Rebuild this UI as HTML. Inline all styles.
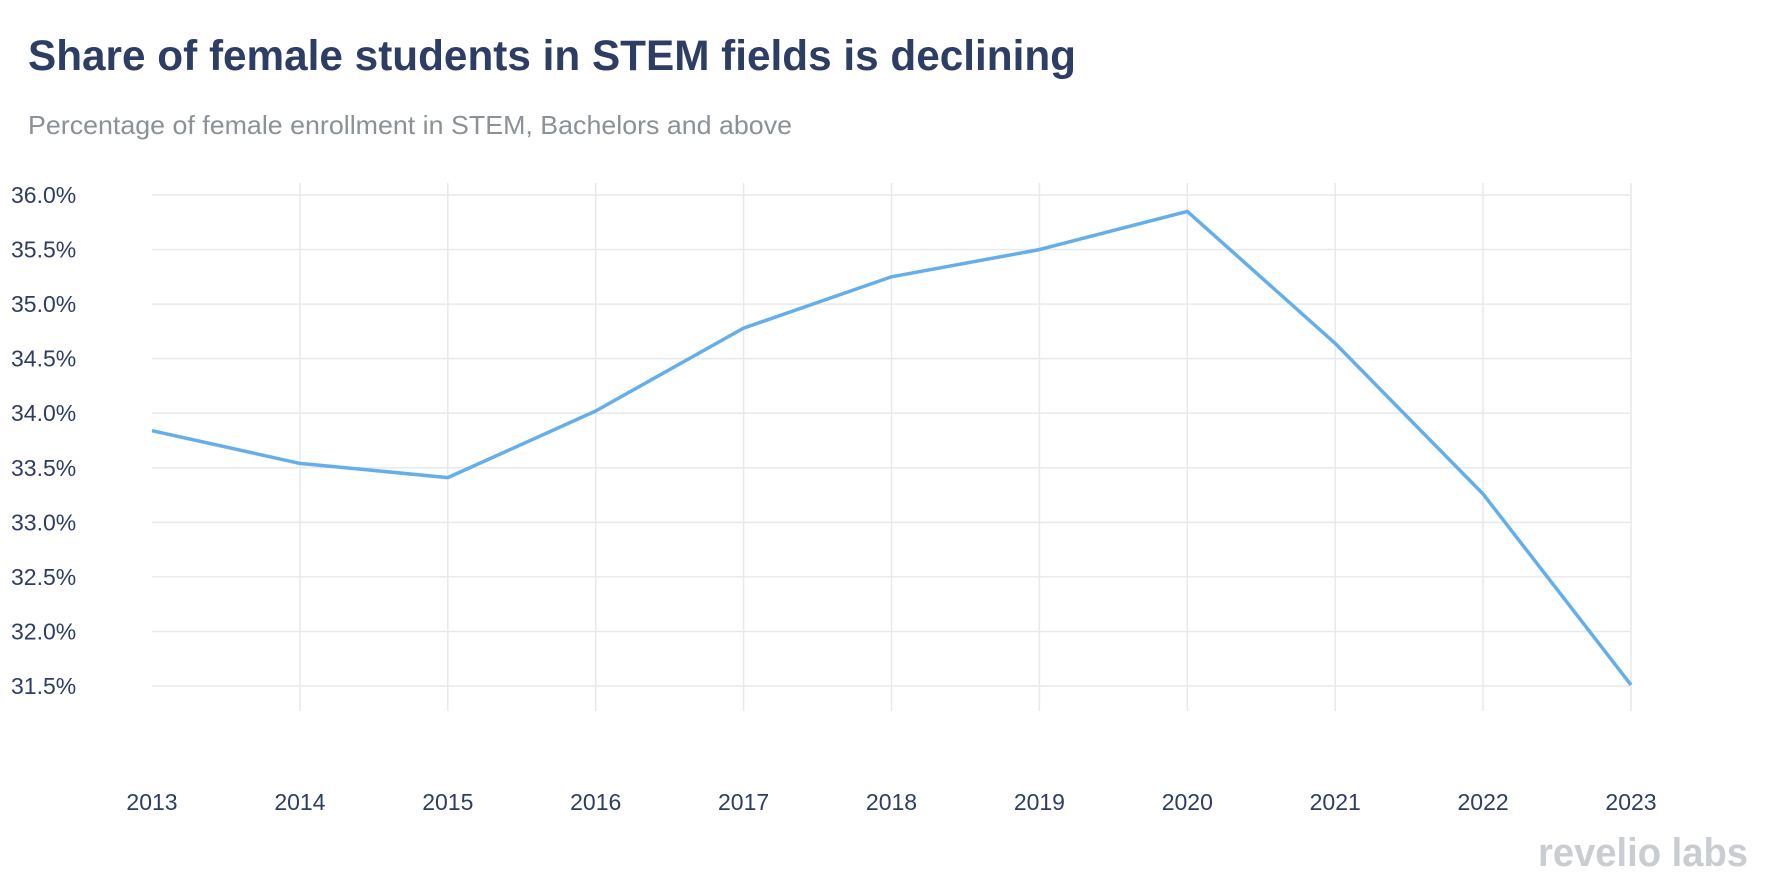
<!DOCTYPE html>
<html><head><meta charset="utf-8">
<style>
html,body{margin:0;padding:0;background:#fff;}
svg{display:block;font-family:"Liberation Sans",sans-serif;}
</style></head>
<body>
<svg id="chart" width="1767" height="886" viewBox="0 0 1767 886">
<text x="28" y="70" font-size="43" font-weight="bold" fill="#2d3d63" textLength="1048" lengthAdjust="spacingAndGlyphs">Share of female students in STEM fields is declining</text>
<text x="28" y="134" font-size="26" fill="#8b9197" textLength="764" lengthAdjust="spacingAndGlyphs">Percentage of female enrollment in STEM, Bachelors and above</text>
<g id="grid"></g>
<g id="yticks"></g>
<g id="xticks"></g>
<g id="series"></g>
<text x="1748" y="866" text-anchor="end" font-size="40" font-weight="bold" fill="#c9ccd1" textLength="210" lengthAdjust="spacingAndGlyphs">revelio labs</text>
</svg>
<script>
const years = [2013,2014,2015,2016,2017,2018,2019,2020,2021,2022,2023];
const shareValues = [33.84,33.54,33.41,34.02,34.78,35.25,35.50,35.85,34.64,33.26,31.51];
const yTickValues = [36.0,35.5,35.0,34.5,34.0,33.5,33.0,32.5,32.0,31.5];

const NS = "http://www.w3.org/2000/svg";
const x0 = 152, x1 = 1631, yTop = 195, yBot = 686;
const yMin = 31.5, yMax = 36.0;
function xScale(i){ return x0 + (x1 - x0) * i / (years.length - 1); }
function yScale(v){ return yBot - (v - yMin) / (yMax - yMin) * (yBot - yTop); }
function mk(tag, attrs, parent){
  const e = document.createElementNS(NS, tag);
  for (const k in attrs) e.setAttribute(k, attrs[k]);
  parent.appendChild(e);
  return e;
}
const grid = document.getElementById('grid');
const yt = document.getElementById('yticks');
const xt = document.getElementById('xticks');
const ser = document.getElementById('series');

yTickValues.forEach(v => {
  const y = yScale(v);
  const l = mk('line', {x1: x0, x2: x1, y1: y, y2: y, stroke: '#e8e9ec', 'stroke-width': 1.5}, grid);
  
  
  const t = mk('text', {x: 11, y: y + 8, 'font-size': 23, fill: '#2d3d63'}, yt);
  t.textContent = v.toFixed(1) + '%';
  
  
});
years.forEach((yr, i) => {
  const x = xScale(i);
  if (i > 0) {
    const l = mk('line', {x1: x, x2: x, y1: 183, y2: 711, stroke: '#e8e9ec', 'stroke-width': 1.5}, grid);
    
    
  }
  const t = mk('text', {x: x, y: 810, 'font-size': 23, fill: '#2d3d63', 'text-anchor': 'middle'}, xt);
  t.textContent = yr;
  
  
});
const pts = shareValues.map((v, i) => xScale(i).toFixed(1) + ',' + yScale(v).toFixed(1)).join(' ');
const line = mk('polyline', {points: pts, fill: 'none', stroke: '#64aeea', 'stroke-width': 3.5, 'stroke-linejoin': 'round'}, ser);


</script>
</body></html>
